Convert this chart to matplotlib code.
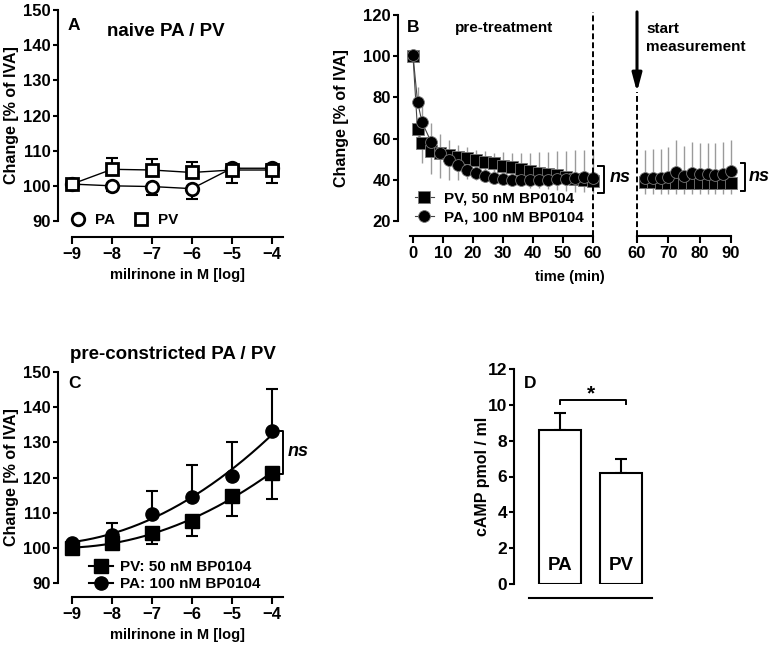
import numpy as np
import matplotlib
matplotlib.use("Agg")
import matplotlib.pyplot as plt
from matplotlib.lines import Line2D

plt.rcParams['font.family'] = ['Liberation Sans', 'DejaVu Sans']
plt.rcParams['font.weight'] = 'bold'
plt.rcParams['axes.labelweight'] = 'bold'
plt.rcParams['axes.linewidth'] = 1.5

# ---------------- data ----------------
# Panel A: naive PA / PV
a_x = [-9, -8, -7, -6, -5, -4]
a_pa = [100.5, 100.0, 99.8, 99.2, 105.0, 105.0]
a_pa_err = [0.5, 1.5, 2.5, 3.0, 4.3, 4.2]
a_pv = [100.5, 104.7, 104.5, 103.8, 104.5, 104.5]
a_pv_err = [0.5, 3.3, 3.0, 2.9, 1.8, 1.8]

# Panel B: pre-treatment time course
b_t1 = [0, 1.5, 3, 6, 9, 12, 15, 18, 21, 24, 27, 30, 33, 36, 39, 42, 45, 48, 51, 54, 57, 60]
b_pa1 = [100.5, 78, 68, 58.5, 53, 49.5, 47, 45, 43.5, 42, 41, 40.5, 40, 40, 40, 40, 40, 40.3, 40.5, 41, 41.3, 41]
b_pa1_err = [0, 7, 8, 9, 9, 10, 10, 11, 11, 12, 12, 13, 13, 13, 13, 13.5, 13.5, 13.5, 13.5, 13.5, 13, 13]
b_pv1 = [100, 64.5, 58, 54, 52.8, 51.8, 51, 50.5, 49.8, 48.5, 48, 46.8, 46.3, 45.3, 44.2, 43.5, 43, 42.2, 41.4, 40.6, 40, 39.5]
b_pv1_err = [0, 8, 10, 11, 12, 12, 11, 10, 10, 9.5, 9, 9, 8.5, 8, 8, 7.5, 7.5, 7, 7, 6.5, 6, 6]
b_t2 = [62.5, 65, 67.5, 70, 72.5, 75, 77.5, 80, 82.5, 85, 87.5, 90]
b_pa2 = [41, 41, 41, 41.5, 44, 42, 43.5, 43, 43, 42.5, 43, 44.5]
b_pa2_err = [13.5, 14, 14, 14.5, 15.3, 14.4, 14.8, 14.9, 15, 15.5, 15.3, 14.8]
b_pv2 = [39, 39, 38.5, 38.5, 38.5, 38.5, 38.5, 38.5, 38.5, 38.5, 38.5, 38.5]
b_pv2_err = [6, 6, 5.5, 5.5, 5.5, 5.5, 5.5, 5.5, 5.5, 5.5, 5.5, 5.5]

# Panel C: pre-constricted PA / PV
c_x = [-9, -8, -7, -6, -5, -4]
c_pa = [101.4, 103.7, 109.7, 114.5, 120.4, 133.1]
c_pa_err = [0.5, 3.5, 6.5, 9.0, 9.7, 12.2]
c_pv = [100.0, 101.4, 104.2, 107.6, 114.6, 121.3]
c_pv_err = [0.5, 1.0, 3.2, 4.3, 5.5, 7.4]

# Panel D: cAMP
d_cat = ['PA', 'PV']
d_val = [8.6, 6.2]
d_err = [0.95, 0.78]

W, H = 772, 647
fig = plt.figure(figsize=(W / 100, H / 100), dpi=100)


def rect(l, r, t, b):
    return [l / W, 1 - b / H, (r - l) / W, (b - t) / H]


def ftext(x, y, s, **kw):
    kw.setdefault('va', 'center')
    kw.setdefault('ha', 'left')
    fig.text(x / W, 1 - y / H, s, **kw)


def style(ax, loff, boff, xl=5):
    ax.spines['top'].set_visible(False)
    ax.spines['right'].set_visible(False)
    ax.spines['left'].set_position(('outward', loff))
    ax.spines['bottom'].set_position(('outward', boff))
    ax.tick_params(axis='y', direction='out', length=3.6, width=1.5, labelsize=12, pad=1.5)
    ax.tick_params(axis='x', direction='out', length=xl, width=1.5, labelsize=12, pad=2)
    ax.patch.set_visible(False)


def ylab(ax, s, xc, size=11.5):
    ax.set_ylabel(s, fontsize=size)
    ax.yaxis.set_label_coords(xc, 0.5)
    ax.yaxis.label.set_va('center')


# ---------------- Panel A ----------------
axA = fig.add_axes(rect(72, 283, 10, 221))
style(axA, 10.1, 11.5)
axA.set_xlim(-9, -3.72)
axA.set_ylim(90, 150)
axA.set_yticks(range(90, 151, 10))
axA.set_xticks(range(-9, -3))
axA.errorbar(a_x, a_pa, yerr=[a_pa_err, np.zeros(6)], fmt='none', ecolor='black',
             elinewidth=1.5, capsize=4.5, capthick=1.5, clip_on=False, zorder=2)
axA.errorbar(a_x, a_pv, yerr=[np.zeros(6), a_pv_err], fmt='none', ecolor='black',
             elinewidth=1.5, capsize=4.5, capthick=1.5, clip_on=False, zorder=2)
axA.plot(a_x, a_pa, color='black', lw=1, zorder=3, clip_on=False)
axA.plot(a_x, a_pv, color='black', lw=1, zorder=3, clip_on=False)
axA.plot(a_x, a_pa, ls='none', marker='o', ms=9, mfc='white', mec='black', mew=2,
         zorder=4, clip_on=False, label='PA')
axA.plot(a_x, a_pv, ls='none', marker='s', ms=9, mfc='white', mec='black', mew=2,
         zorder=5, clip_on=False, label='PV')
axA.legend(loc='center left', bbox_to_anchor=(-0.035, 0.005), ncol=2, frameon=False,
           fontsize=11, handlelength=1.0, handletextpad=0.6, columnspacing=1.2,
           borderaxespad=0)
ylab(axA, 'Change [% of IVA]', -0.289)
axA.set_xlabel('milrinone in M [log]', fontsize=10.5)
axA.xaxis.set_label_coords(0.5, -0.256)
axA.xaxis.label.set_va('center')
ftext(68, 25, 'A', fontsize=12.5)
ftext(107, 32, 'naive PA / PV', fontsize=13.5)

# ---------------- Panel B ----------------
axB1 = fig.add_axes(rect(410, 593, 15, 221))
axB2 = fig.add_axes(rect(637, 731, 15, 221))
style(axB1, 8.6, 10.8)
style(axB2, 8.6, 10.8)
for ax in (axB1, axB2):
    ax.set_ylim(20, 120)
axB1.set_xlim(-1, 60)
axB2.set_xlim(60, 90)
axB1.set_yticks(range(20, 121, 20))
axB1.set_xticks(range(0, 61, 10))
axB2.set_xticks(range(60, 91, 10))
axB2.spines['left'].set_visible(False)
axB2.tick_params(axis='y', left=False, labelleft=False)

grey = '#9a9a9a'
for ax, t, pa, pae, pv, pve in ((axB1, b_t1, b_pa1, b_pa1_err, b_pv1, b_pv1_err),
                                (axB2, b_t2, b_pa2, b_pa2_err, b_pv2, b_pv2_err)):
    n = len(t)
    ax.errorbar(t, pv, yerr=[pve, np.zeros(n)], fmt='none', ecolor=grey, elinewidth=1,
                capsize=0, clip_on=False, zorder=2)
    ax.errorbar(t, pa, yerr=[np.zeros(n), pae], fmt='none', ecolor=grey, elinewidth=1,
                capsize=0, clip_on=False, zorder=2)
    ax.plot(t, pv, color='#444444', lw=0.8, marker='s', ms=8, mfc='black', mec='#777777',
            mew=0.6, zorder=3, clip_on=False, label='PV, 50 nM BP0104')
    ax.plot(t, pa, color='#444444', lw=0.8, marker='o', ms=8.5, mfc='black', mec='#777777',
            mew=0.6, zorder=4, clip_on=False, label='PA, 100 nM BP0104')

axB1.legend(loc='center left', bbox_to_anchor=(-0.005, 0.064), frameon=False, fontsize=11,
            handlelength=1.2, handletextpad=0.7, labelspacing=0.35, borderaxespad=0)

axB1.axvline(60, ymin=-0.073, ymax=1.015, color='black', lw=1.4, ls=(0, (3, 1.6)),
             clip_on=False, zorder=6)
axB2.axvline(60, ymin=-0.073, ymax=0.626, color='black', lw=1.4, ls=(0, (3, 1.6)),
             clip_on=False, zorder=6)
axB2.annotate('', xy=(60, 0.626), xytext=(60, 1.015),
              xycoords=('data', 'axes fraction'), textcoords=('data', 'axes fraction'),
              arrowprops=dict(arrowstyle='-|>,head_length=0.6,head_width=0.16', lw=2.2,
                              mutation_scale=18, color='black', shrinkA=0, shrinkB=0),
              annotation_clip=False)
# ns brackets
axB1.plot([61.7, 63.7, 63.7, 61.7], [46.7, 46.7, 33.6, 33.6], color='black', lw=1.4,
          clip_on=False)
axB2.plot([93.2, 94.5, 94.5, 93.2], [48.2, 48.2, 34.6, 34.6], color='black', lw=1.4,
          clip_on=False)
axB1.text(65.6, 40.9, 'ns', style='italic', fontsize=13, va='center', ha='left')
axB2.text(95.5, 41.8, 'ns', style='italic', fontsize=13, va='center', ha='left')

ylab(axB1, 'Change [% of IVA]', -0.372)
ftext(605, 277, 'time (min)', fontsize=10.5, ha='right')
ftext(407, 28, 'B', fontsize=12.5)
ftext(455, 28, 'pre-treatment', fontsize=11)
ftext(646, 29, 'start', fontsize=11)
ftext(646, 47, 'measurement', fontsize=11)

# ---------------- Panel C ----------------
axC = fig.add_axes(rect(72, 283, 372, 583))
style(axC, 10.1, 10.1)
axC.set_xlim(-9, -3.72)
axC.set_ylim(90, 150)
axC.set_yticks(range(90, 151, 10))
axC.set_xticks(range(-9, -3))
xs = np.linspace(-9, -4, 200)
for vals in (c_pa, c_pv):
    coef = np.polyfit(c_x, vals, 2)
    axC.plot(xs, np.polyval(coef, xs), color='black', lw=1.5, zorder=3, clip_on=False)
axC.errorbar(c_x, c_pa, yerr=[np.zeros(6), c_pa_err], fmt='none', ecolor='black',
             elinewidth=1.5, capsize=4.5, capthick=1.5, clip_on=False, zorder=2)
axC.errorbar(c_x, c_pv, yerr=[c_pv_err, np.zeros(6)], fmt='none', ecolor='black',
             elinewidth=1.5, capsize=4.5, capthick=1.5, clip_on=False, zorder=2)
axC.plot(c_x, c_pv, ls='none', marker='s', ms=10, mfc='black', mec='black', zorder=4,
         clip_on=False)
axC.plot(c_x, c_pa, ls='none', marker='o', ms=9.5, mfc='black', mec='black', zorder=5,
         clip_on=False)
hC = [Line2D([], [], color='black', lw=1.5, marker='s', ms=10),
      Line2D([], [], color='black', lw=1.5, marker='o', ms=9.5)]
axC.legend(hC, ['PV: 50 nM BP0104', 'PA: 100 nM BP0104'], loc='center left',
           bbox_to_anchor=(0.05, 0.035), frameon=False, fontsize=11, handlelength=1.6,
           handletextpad=0.45, labelspacing=0.18, borderaxespad=0)
axC.plot([-3.83, -3.72, -3.72, -3.83], [133.2, 133.2, 121.0, 121.0], color='black',
         lw=1.4, clip_on=False)
axC.text(-3.6, 127.3, 'ns', style='italic', fontsize=13, va='center', ha='left')
ylab(axC, 'Change [% of IVA]', -0.289)
axC.set_xlabel('milrinone in M [log]', fontsize=10.5)
axC.xaxis.set_label_coords(0.5, -0.246)
axC.xaxis.label.set_va('center')
ftext(68, 384, 'C', fontsize=12.5)
ftext(173, 354, 'pre-constricted PA / PV', fontsize=13.5, ha='center')

# ---------------- Panel D ----------------
axD = fig.add_axes(rect(529, 652, 369, 584))
style(axD, 10.8, 10.1)
axD.set_xlim(-0.5, 1.5)
axD.set_ylim(0, 12)
axD.set_yticks(range(0, 13, 2))
axD.tick_params(axis='x', bottom=False, labelbottom=False)
axD.tick_params(axis='y', labelsize=12.5)
xpos = np.arange(len(d_cat))
axD.errorbar(xpos, d_val, yerr=[np.zeros(2), d_err], fmt='none', ecolor='black',
             elinewidth=1.5, capsize=4.5, capthick=1.5, zorder=1)
axD.bar(xpos, d_val, width=0.68, color='white', edgecolor='black', linewidth=1.5, zorder=2)
for x, c in zip(xpos, d_cat):
    axD.text(x, 0.55, c, ha='center', va='bottom', fontsize=13.5)
axD.plot([0, 0, 1.07, 1.07], [10.05, 10.28, 10.28, 10.05], color='black', lw=1.4,
         clip_on=False)
axD.text(0.5, 10.6, '*', ha='center', va='center', fontsize=15)
ylab(axD, 'cAMP pmol / ml', -0.382)
ftext(524, 384, 'D', fontsize=12.5)

fig.savefig('out.png', dpi=100)
